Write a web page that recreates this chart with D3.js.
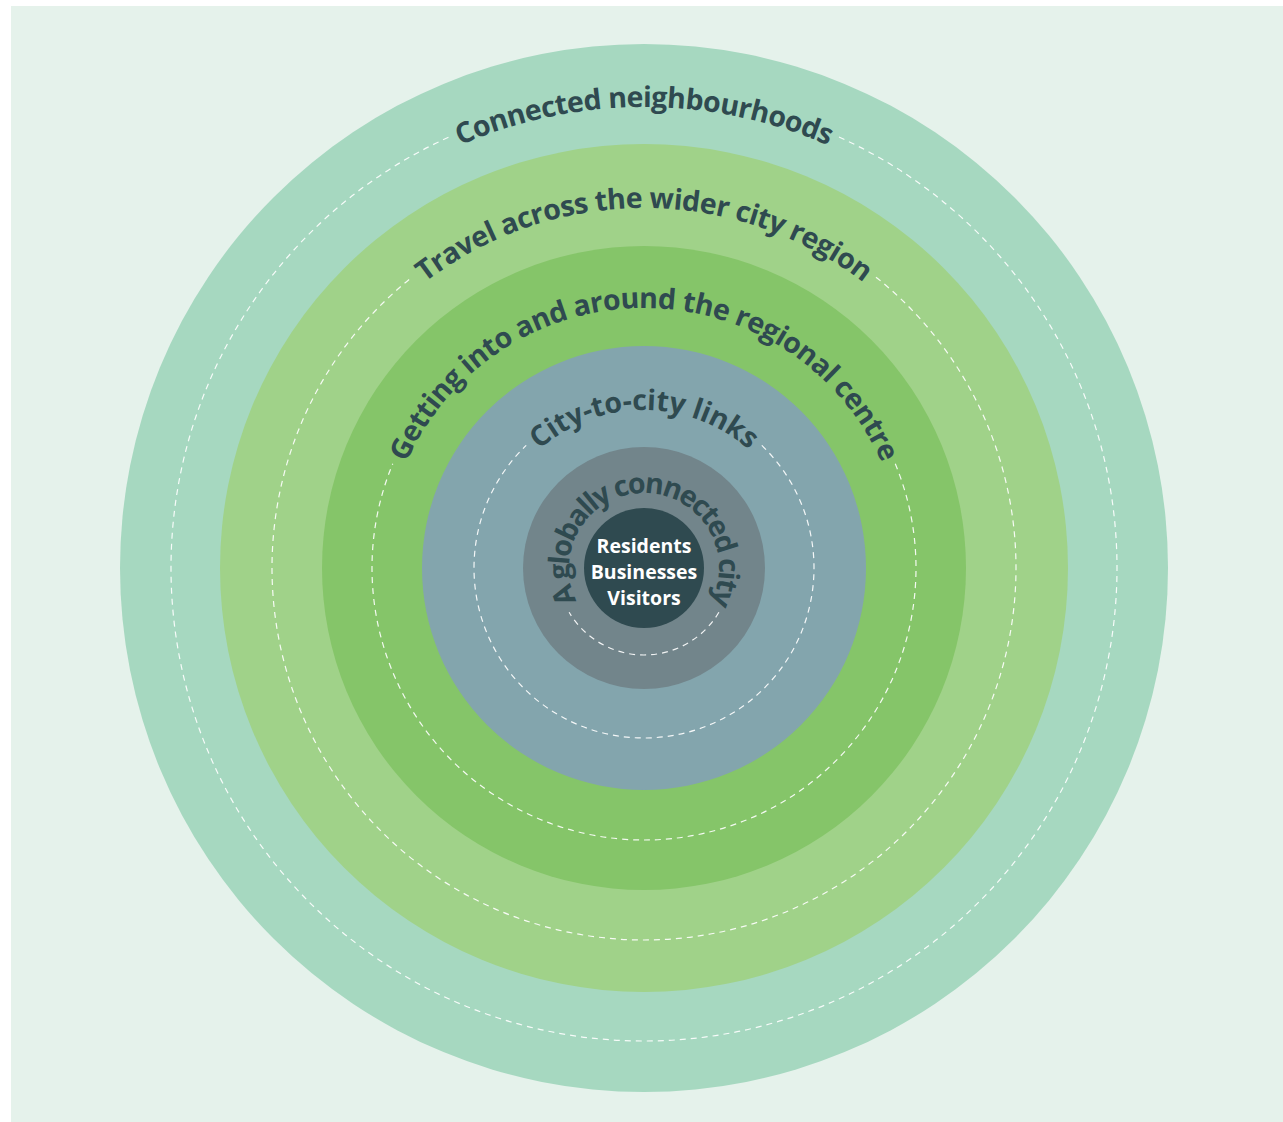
<!DOCTYPE html>
<html>
<head>
<meta charset="utf-8">
<script src="https://cdn.jsdelivr.net/npm/d3@7"></script>
<style>
    html, body { margin: 0; padding: 0; background: #ffffff; }
    svg { display: block; }
</style>
</head>
<body>
<svg id="chart"></svg>
<script>
// rings from outside in: outer radius (px) and fill
const ringRadii = [524, 424, 322, 222, 121, 60];
const ringColors = ["#a6d8c0", "#a0d289", "#85c569", "#83a5ad", "#72858b", "#2f4a50"];

// dashed guide circles carrying the labels
const labels = [
    "Connected neighbourhoods",
    "Travel across the wider city region",
    "Getting into and around the regional centre",
    "City-to-city links",
    "A globally connected city"
];
const labelRadii = [473, 372, 272, 170, 87];
// half of the angle (degrees) each label takes up, centred on the top
const labelHalfAngles = [23.5, 37.5, 66, 41.5, 116];

const centreLines = ["Residents", "Businesses", "Visitors"];

const width = 1283;
const height = 1122;
const cx = 644;
const cy = 568;

const textColor = "#2f4a50";
const fontFamily = "'Open Sans', 'Noto Sans', sans-serif";

const svg = d3.select("#chart")
    .attr("width", width)
    .attr("height", height);

// фон
svg.append("rect")
    .attr("x", 11)
    .attr("y", 6)
    .attr("width", width - 11)
    .attr("height", height - 6)
    .style("fill", "#e5f2eb");

const scaleR = d3.scaleLinear().domain([0, 524]).range([0, 524]);

const g = svg.append("g")
    .attr("transform", `translate(${cx}, ${cy})`);

// concentric discs, biggest first
g.selectAll("circle.ring")
    .data(ringRadii)
    .enter()
    .append("circle")
    .attr("class", "ring")
    .attr("r", d => scaleR(d))
    .style("fill", (d, i) => ringColors[i]);

// baseline path for each label: full circle starting at the bottom, so 50% lands on top
const baseOffset = 12;
const defs = svg.append("defs");
labels.forEach((label, i) => {
    const rb = scaleR(labelRadii[i]) - baseOffset;
    defs.append("path")
        .attr("id", "lp" + i)
        .attr("d", `M ${cx} ${cy + rb} A ${rb} ${rb} 0 1 1 ${cx} ${cy - rb} A ${rb} ${rb} 0 1 1 ${cx} ${cy + rb}`);
});

// dashed circles with a gap where the text sits
const gapPx = 7;
labels.forEach((label, i) => {
    const r = scaleR(labelRadii[i]);
    const half = labelHalfAngles[i] * Math.PI / 180 + gapPx / r;
    const p = d3.path();
    p.arc(0, 0, r, -Math.PI / 2 + half, 3 * Math.PI / 2 - half);
    g.append("path")
        .attr("d", p.toString())
        .style("fill", "none")
        .style("stroke", "#ffffff")
        .style("stroke-width", 1.2)
        .style("stroke-dasharray", "6,5")
        .style("opacity", 0.9);
});

// labels along the arcs
labels.forEach((label, i) => {
    const rb = scaleR(labelRadii[i]) - baseOffset;
    const target = rb * 2 * labelHalfAngles[i] * Math.PI / 180;

    const text = svg.append("text")
        .style("font-family", fontFamily)
        .style("font-weight", 700)
        .style("font-stretch", "90%")
        .style("font-size", "28.5px")
        .style("fill", textColor);

    text.append("textPath")
        .attr("href", "#lp" + i)
        .attr("startOffset", "50%")
        .style("text-anchor", "middle")
        .text(label);

    // squeeze or spread letters so the label covers the same angle as the original
    const measured = text.node().getComputedTextLength();
    const spacing = (target - measured) / label.length;
    text.style("letter-spacing", spacing + "px");
});

// centre text
g.selectAll("text.centre")
    .data(centreLines)
    .enter()
    .append("text")
    .attr("class", "centre")
    .attr("x", 0)
    .attr("y", (d, i) => (i - 1) * 26 + 4)
    .attr("dy", "0.35em")
    .style("text-anchor", "middle")
    .style("font-family", fontFamily)
    .style("font-weight", 700)
    .style("font-size", "19.5px")
    .style("fill", "#ffffff")
    .text(d => d);
</script>
</body>
</html>
